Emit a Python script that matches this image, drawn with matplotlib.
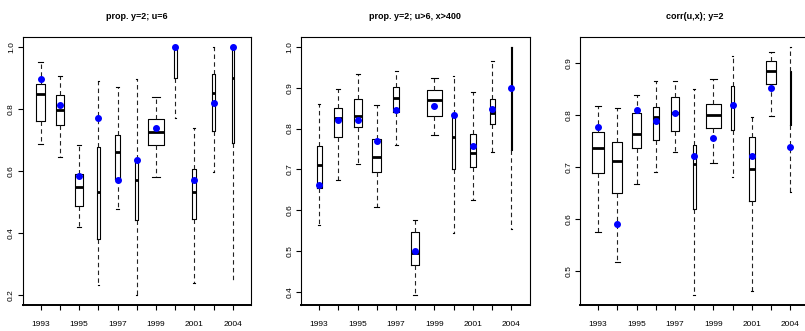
import numpy as np
import matplotlib
matplotlib.use("Agg")
import matplotlib.pyplot as plt

plt.rcParams['font.family'] = ['Liberation Sans Narrow', 'Liberation Sans', 'DejaVu Sans']

years = ["1993", "1994", "1995", "1996", "1997", "1998", "1999", "2000", "2001", "2002", "2004"]

# prop. y=2; u=6
p1_whishi = [0.952, 0.906, 0.684, 0.891, 0.870, 0.896, 0.838, 1.000, 0.739, 1.000, 1.000]
p1_q3     = [0.881, 0.844, 0.591, 0.677, 0.717, 0.638, 0.769, 1.000, 0.608, 0.913, 1.000]
p1_med    = [0.847, 0.796, 0.548, 0.532, 0.661, 0.572, 0.726, 1.000, 0.533, 0.852, 0.900]
p1_q1     = [0.761, 0.747, 0.487, 0.380, 0.573, 0.442, 0.683, 0.900, 0.446, 0.728, 0.689]
p1_whislo = [0.686, 0.645, 0.419, 0.232, 0.477, 0.200, 0.580, 0.770, 0.240, 0.598, 0.248]
p1_obs    = [0.896, 0.812, 0.584, 0.770, 0.572, 0.637, 0.740, 1.000, 0.572, 0.818, 1.000]
p1_n      = [36, 31, 31, 3, 7, 3, 100, 3, 7, 3, 1]

# prop. y=2; u>6, x>400
p2_whishi = [0.859, 0.896, 0.933, 0.857, 0.942, 0.575, 0.925, 0.929, 0.889, 0.965, 1.000]
p2_q3     = [0.757, 0.850, 0.873, 0.775, 0.902, 0.547, 0.895, 0.835, 0.787, 0.873, 1.000]
p2_med    = [0.710, 0.825, 0.831, 0.730, 0.875, 0.496, 0.869, 0.780, 0.740, 0.837, 0.900]
p2_q1     = [0.655, 0.780, 0.804, 0.694, 0.841, 0.465, 0.831, 0.702, 0.706, 0.810, 0.747]
p2_whislo = [0.564, 0.675, 0.712, 0.608, 0.759, 0.392, 0.783, 0.545, 0.624, 0.742, 0.554]
p2_obs    = [0.662, 0.820, 0.822, 0.770, 0.846, 0.501, 0.855, 0.834, 0.757, 0.847, 0.900]
p2_n      = [10, 29, 27, 36, 15, 29, 100, 3, 17, 12, 1]

# corr(u,x); y=2
p3_whishi = [0.818, 0.813, 0.839, 0.866, 0.866, 0.849, 0.869, 0.913, 0.796, 0.922, 0.931]
p3_q3     = [0.767, 0.748, 0.803, 0.815, 0.834, 0.743, 0.821, 0.856, 0.757, 0.903, 0.884]
p3_med    = [0.736, 0.711, 0.763, 0.796, 0.803, 0.705, 0.800, 0.820, 0.696, 0.885, 0.850]
p3_q1     = [0.689, 0.650, 0.736, 0.752, 0.769, 0.618, 0.775, 0.771, 0.635, 0.859, 0.780]
p3_whislo = [0.575, 0.517, 0.666, 0.691, 0.728, 0.453, 0.707, 0.681, 0.460, 0.798, 0.652]
p3_obs    = [0.776, 0.590, 0.810, 0.789, 0.803, 0.721, 0.756, 0.819, 0.720, 0.851, 0.739]
p3_n      = [58, 45, 32, 14, 27, 5, 100, 3, 12, 42, 1]

panels = [
    ("prop. y=2; u=6", p1_whislo, p1_q1, p1_med, p1_q3, p1_whishi, p1_obs, p1_n,
     [0.2, 0.4, 0.6, 0.8, 1.0]),
    ("prop. y=2; u>6, x>400", p2_whislo, p2_q1, p2_med, p2_q3, p2_whishi, p2_obs, p2_n,
     [0.4, 0.5, 0.6, 0.7, 0.8, 0.9, 1.0]),
    ("corr(u,x); y=2", p3_whislo, p3_q1, p3_med, p3_q3, p3_whishi, p3_obs, p3_n,
     [0.5, 0.6, 0.7, 0.8, 0.9]),
]

W, H = 805, 331
fig = plt.figure(figsize=(W / 100, H / 100), dpi=100)
lefts = [22.5, 301, 580]
ax_w = 228.5
ax_bottom, ax_top = 305, 37

for left, (title, lo, q1, med, q3, hi, obs, n, yt) in zip(lefts, panels):
    ax = fig.add_axes([left / W, (H - ax_bottom) / H, ax_w / W, (ax_bottom - ax_top) / H])
    pos = np.arange(1, len(years) + 1)
    # box width ~ sqrt(n), like varwidth=TRUE
    widths = 0.8 * np.sqrt(n) / np.sqrt(max(n))
    stats = [dict(whislo=a, q1=b, med=c, q3=d, whishi=e, fliers=[])
             for a, b, c, d, e in zip(lo, q1, med, q3, hi)]
    ax.bxp(stats, positions=pos, widths=widths, capwidths=widths * 0.5,
           showfliers=False, patch_artist=False,
           boxprops=dict(color="black", lw=0.8),
           whiskerprops=dict(color="#222222", lw=0.8, linestyle=(0, (4, 3))),
           capprops=dict(color="black", lw=0.8),
           medianprops=dict(color="black", lw=2.0, solid_capstyle="butt"))
    ax.plot(pos, obs, "o", color="#0000ff", ms=4.0, mec="#0000ff", zorder=5)

    vals = lo + hi
    ymin, ymax = min(vals), max(vals)
    ext = 0.04 * (ymax - ymin)
    ax.set_ylim(ymin - ext, ymax + ext)
    ax.set_xlim(0.5 - 0.44, len(years) + 0.5 + 0.44)

    ax.set_xticks(pos)
    ax.set_xticklabels([y if i % 2 == 0 else "" for i, y in enumerate(years)], fontsize=6)
    ax.set_yticks(yt)
    ax.set_yticklabels(["%.1f" % v for v in yt], fontsize=6, rotation=90, va="center")
    ax.tick_params(axis="x", length=3.5, width=0.8, pad=8)
    ax.tick_params(axis="y", length=3.5, width=0.8, pad=2)
    for s in ax.spines.values():
        s.set_linewidth(0.8)
    ax.spines["bottom"].set_linewidth(1.4)
    ax.set_title(title, fontsize=6.5, fontweight="bold", pad=13)

fig.savefig("out.png", dpi=100)
